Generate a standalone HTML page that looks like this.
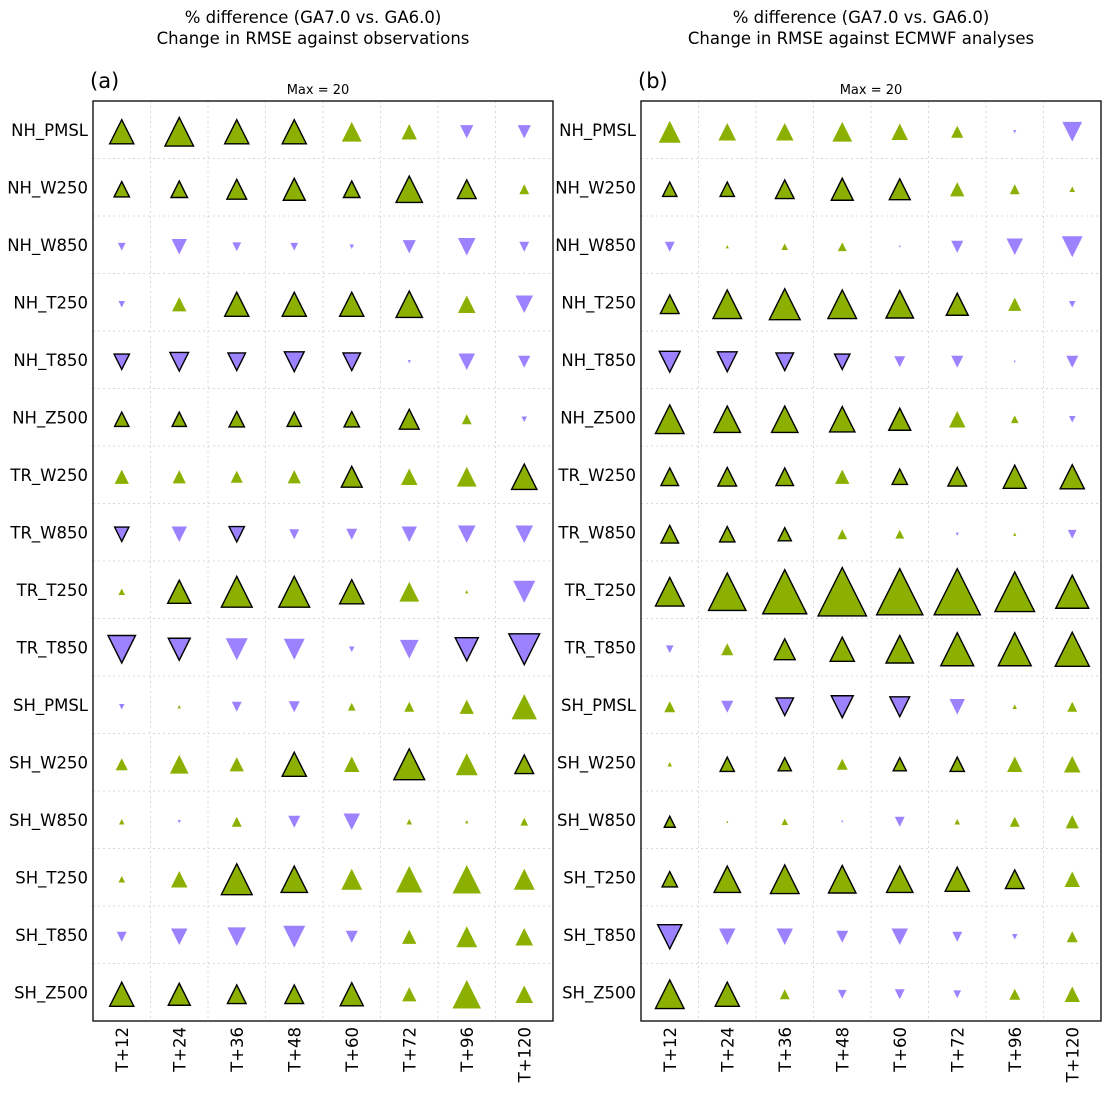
<!DOCTYPE html>
<html><head><meta charset="utf-8"><style>
body{margin:0;background:#fff;}
svg text{font-family:"DejaVu Sans","Liberation Sans",sans-serif;}
</style></head><body>
<svg id="chart" width="1113" height="1091" viewBox="0 0 1113 1091" xmlns="http://www.w3.org/2000/svg">
<text x="313" y="23" text-anchor="middle" font-size="16.5">% difference (GA7.0 vs. GA6.0)</text>
<text x="313" y="44" text-anchor="middle" font-size="16.5">Change in RMSE against observations</text>
<text x="861" y="23" text-anchor="middle" font-size="16.5">% difference (GA7.0 vs. GA6.0)</text>
<text x="861" y="44" text-anchor="middle" font-size="16.5">Change in RMSE against ECMWF analyses</text>
<text x="90" y="88" font-size="21">(a)</text>
<text x="638" y="88" font-size="21">(b)</text>
<text x="318" y="94" text-anchor="middle" font-size="13">Max = 20</text>
<text x="871" y="94" text-anchor="middle" font-size="13">Max = 20</text>
</svg>
<script>
const rows=["NH_PMSL","NH_W250","NH_W850","NH_T250","NH_T850","NH_Z500","TR_W250","TR_W850","TR_T250","TR_T850","SH_PMSL","SH_W250","SH_W850","SH_T250","SH_T850","SH_Z500"];
const cols=["T+12","T+24","T+36","T+48","T+60","T+72","T+96","T+120"];
const valuesA=[
[11,13,11,11,9,7,-6,-6],
[7,7.5,9,10,7.5,12,8.5,4.5],
[-3.5,-7,-4,-3.5,-2,-6,-8,-4.5],
[-3,6.5,11,11,11,12,8,-8],
[-7,-8.5,-8,-9,-8,-1.5,-7.5,-5.5],
[6.5,6.5,7,6.5,7,9,4.5,-2.5],
[6.5,6,5.5,6,9.5,7.5,9,11.5],
[-6.5,-7,-7,-4.5,-5,-7,-8,-8],
[3,10.5,14,14,11,9,1.5,-10],
[-12.5,-10,-10,-9.5,-2.5,-8.5,-10.5,-14],
[-2.5,1.5,-4.5,-5,3.5,4.5,6.5,11.5],
[5.5,8.5,6.5,11,7,14,10,8.5],
[2.5,-1.5,4.5,-5.5,-7.5,2.5,1.5,3.5],
[3,7.5,14,12,9.5,12,13,9.5],
[-4.5,-7.5,-8.5,-10,-5.5,6.5,9.5,8],
[11,10,8.5,8.5,10.5,6.5,13,8]];
const sigA=[
[1,1,1,1,0,0,0,0],[1,1,1,1,1,1,1,0],[0,0,0,0,0,0,0,0],[0,0,1,1,1,1,0,0],
[1,1,1,1,1,0,0,0],[1,1,1,1,1,1,0,0],[0,0,0,0,1,0,0,1],[1,0,1,0,0,0,0,0],
[0,1,1,1,1,0,0,0],[1,1,0,0,0,0,1,1],[0,0,0,0,0,0,0,0],[0,0,0,1,0,1,0,1],
[0,0,0,0,0,0,0,0],[0,0,1,1,0,0,0,0],[0,0,0,0,0,0,0,0],[1,1,1,1,1,0,0,0]];
const valuesB=[
[10,8,8,9,7.5,5.5,-1.5,-9],
[6.5,6.5,8.5,10,9.5,6.5,4.5,2.5],
[-4.5,1.5,3,4,-1,-5.5,-7.5,-9.5],
[8.5,13,14,13,12.5,10,6,-3],
[-9.5,-9,-8,-7,-5,-5.5,-1,-5.5],
[13,12,12,11.5,10,7.5,3.5,-3],
[8,8.5,8,6.5,7,8.5,10.5,11],
[8,7,6,4.5,4,-1.5,1.5,-4],
[13,17,20,22,21,21,18,15],
[-3.5,5.5,9.5,11,12.5,15,15,15.5],
[5,-5.5,-8,-10,-9,-7,2,4.5],
[2,6.5,6,5,6,6.5,7,7.5],
[5,1,3,-1,-4.5,2.5,4.5,6],
[7,12,13,12.5,12,11,8.5,7],
[-11,-7.5,-7.5,-5.5,-7.5,-4.5,-2.5,5],
[13,11,4.5,-4,-4.5,-3.5,5,7]];
const sigB=[
[0,0,0,0,0,0,0,0],[1,1,1,1,1,0,0,0],[0,0,0,0,0,0,0,0],[1,1,1,1,1,1,0,0],
[1,1,1,1,0,0,0,0],[1,1,1,1,1,0,0,0],[1,1,1,0,1,1,1,1],[1,1,1,0,0,0,0,0],
[1,1,1,1,1,1,1,1],[0,0,1,1,1,1,1,1],[0,0,1,1,1,0,0,0],[0,1,1,0,1,1,0,0],
[1,0,0,0,0,0,0,0],[1,1,1,1,1,1,1,0],[1,0,0,0,0,0,0,0],[1,1,0,0,0,0,0,0]];

const NS="http://www.w3.org/2000/svg";
const svg=document.getElementById('chart');
const top0=101, cell=57.5, H=920, W=460, pxPerUnit=2.2;
function mk(t,a){const e=document.createElementNS(NS,t);for(const k in a)e.setAttribute(k,a[k]);svg.appendChild(e);return e;}
function xPos(left,j){return left+cell*(j+0.5);}
function yPos(i){return top0+cell*(i+0.5);}
function panel(left,vals,sig,p){
  for(let k=1;k<8;k++){const l=mk('line',{x1:left+k*cell,x2:left+k*cell,y1:top0,y2:top0+H,stroke:'#d8d8d8','stroke-dasharray':'2,3'});
    
    }
  for(let k=1;k<16;k++){const l=mk('line',{x1:left,x2:left+W,y1:top0+k*cell,y2:top0+k*cell,stroke:'#d8d8d8','stroke-dasharray':'2,3'});
    
    }
  const r=mk('rect',{x:left,y:top0,width:W,height:H,fill:'none',stroke:'#000','stroke-width':1.3});
  
  
  rows.forEach((rn,i)=>{
    const t=mk('text',{x:left-5,y:yPos(i)+6,'text-anchor':'end','font-size':16.5});t.textContent=rn;
    
    
  });
  cols.forEach((cn,j)=>{
    const x=xPos(left,j);
    const t=mk('text',{x:0,y:0,'text-anchor':'end','font-size':16.5,transform:`translate(${x+6},${top0+H+6}) rotate(-90)`});t.textContent=cn;
    
    
  });
  vals.forEach((row,i)=>row.forEach((v,j)=>{
    const w=Math.abs(v)*pxPerUnit, h=w, cx=xPos(left,j), cy=yPos(i)+2;
    let pts;
    if(v>=0) pts=`${cx-w/2},${cy+h/2} ${cx+w/2},${cy+h/2} ${cx},${cy-h/2}`;
    else pts=`${cx-w/2},${cy-h/2} ${cx+w/2},${cy-h/2} ${cx},${cy+h/2}`;
    const s=sig[i][j];
    const tri=mk('polygon',{points:pts,fill:v>=0?'#8cb000':'#9d82ff',stroke:s?'#000':'none','stroke-width':1.4,'stroke-linejoin':'miter'});
    
    
  }));
}
panel(93,valuesA,sigA,'a');
panel(641,valuesB,sigB,'b');
</script>
</body></html>
